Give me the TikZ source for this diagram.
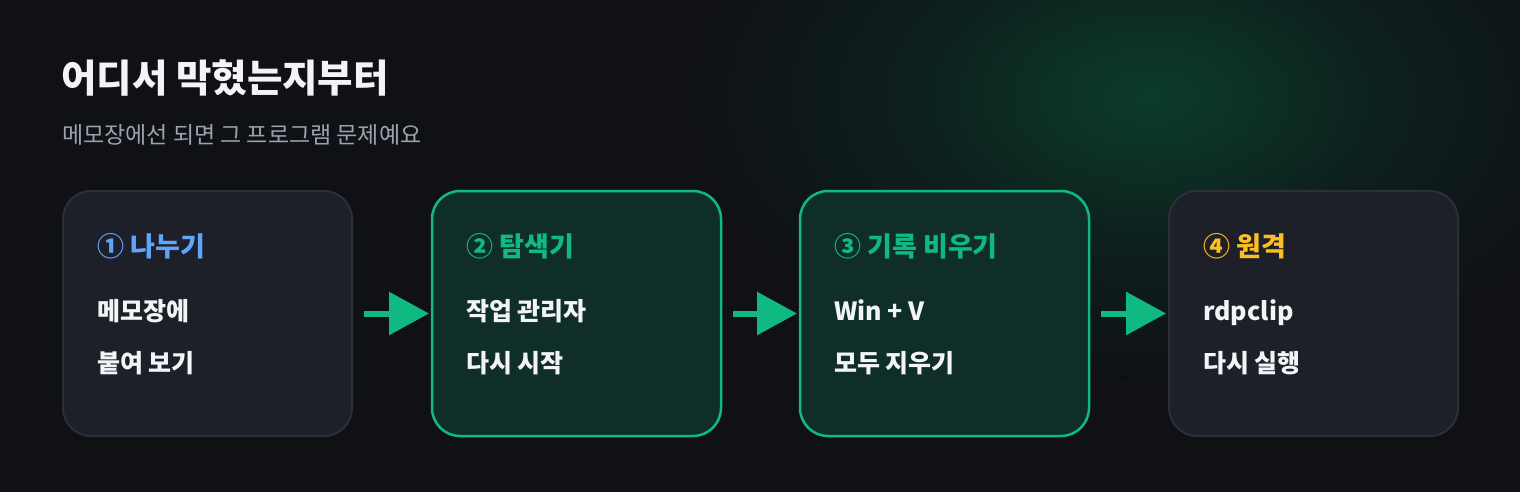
\documentclass[tikz,border=0pt]{standalone}
\usepackage{fontspec}
\setmainfont{Noto Sans CJK KR}
\usetikzlibrary{positioning,arrows.meta}
\definecolor{bgc}{HTML}{0F1115}
\definecolor{glowc}{HTML}{0B3A2B}
\definecolor{cardfill}{HTML}{1E2029}
\definecolor{cardrim}{HTML}{2C2F3A}
\definecolor{mint}{HTML}{10B981}
\definecolor{mintfill}{HTML}{102E29}
\definecolor{sky}{HTML}{60A5FA}
\definecolor{amber}{HTML}{FBBF24}
\definecolor{ink}{HTML}{F3F4F6}
\definecolor{muted}{HTML}{9CA3AF}
\pgfdeclareradialshading{glow}{\pgfpoint{0bp}{0bp}}{color(0bp)=(glowc); color(5bp)=(glowc!80!bgc); color(13bp)=(glowc!35!bgc); color(25bp)=(bgc); color(50bp)=(bgc)}

\begin{document}
\begin{tikzpicture}[x=1pt,y=-1pt,
	card/.style={draw=cardrim, line width=2pt, fill=cardfill, rounded corners=28pt, minimum width=289pt, minimum height=245pt, inner sep=0pt, outer sep=0pt},
	hot/.style={card, draw=mint, fill=mintfill, line width=2.5pt},
	tag/.style={anchor=base west, inner sep=0pt, font=\fontsize{27}{31}\selectfont\bfseries},
	entry/.style={anchor=base west, inner sep=0pt, text=ink, font=\fontsize{25}{29}\selectfont\bfseries},
	link/.style={draw=mint, line width=6pt, -{Triangle[length=40pt,width=42pt]}, shorten <=12pt, shorten >=3pt}]
% background and glow
\fill[bgc] (0,0) rectangle (1520,492);
\begin{scope}
	\clip (0,0) rectangle (1520,492);
	\fill[shading=glow] (1150,97) ellipse [x radius=460, y radius=280];
\end{scope}
\useasboundingbox (0,0) rectangle (1520,492);

% heading
\node[anchor=base west, inner sep=0pt, text=ink, font=\fontsize{38.5}{44}\selectfont\bfseries] (title) at (61,93) {어디서 막혔는지부터};
\node[anchor=base west, inner sep=0pt, text=muted, font=\fontsize{23}{27}\selectfont] (subtitle) at (62,143) {메모장에선 되면 그 프로그램 문제예요};

% cards
\node[card] (split) at (207.5,313.5) {};
\node[hot, right=80pt of split] (explorer) {};
\node[hot, right=79pt of explorer] (history) {};
\node[card, right=80pt of history] (remote) {};

\node[tag, text=sky] (split-t) at ([xshift=34pt,yshift=-65pt]split.north west) {① 나누기};
\node[entry] (split-a) at ([xshift=34pt,yshift=-129.5pt]split.north west) {메모장에};
\node[entry] (split-b) at ([xshift=34pt,yshift=-181.5pt]split.north west) {붙여 보기};

\node[tag, text=mint] (explorer-t) at ([xshift=34pt,yshift=-65pt]explorer.north west) {② 탐색기};
\node[entry] (explorer-a) at ([xshift=34pt,yshift=-129.5pt]explorer.north west) {작업 관리자};
\node[entry] (explorer-b) at ([xshift=34pt,yshift=-181.5pt]explorer.north west) {다시 시작};

\node[tag, text=mint] (history-t) at ([xshift=34pt,yshift=-65pt]history.north west) {③ 기록 비우기};
\node[entry] (history-a) at ([xshift=34pt,yshift=-129.5pt]history.north west) {Win + V};
\node[entry] (history-b) at ([xshift=34pt,yshift=-181.5pt]history.north west) {모두 지우기};

\node[tag, text=amber] (remote-t) at ([xshift=34pt,yshift=-65pt]remote.north west) {④ 원격};
\node[entry] (remote-a) at ([xshift=34pt,yshift=-129.5pt]remote.north west) {rdpclip};
\node[entry] (remote-b) at ([xshift=34pt,yshift=-181.5pt]remote.north west) {다시 실행};

% arrows
\foreach \a/\b in {split/explorer, explorer/history, history/remote}
	\draw[link] (\a) -- (\b);
\end{tikzpicture}
\end{document}
